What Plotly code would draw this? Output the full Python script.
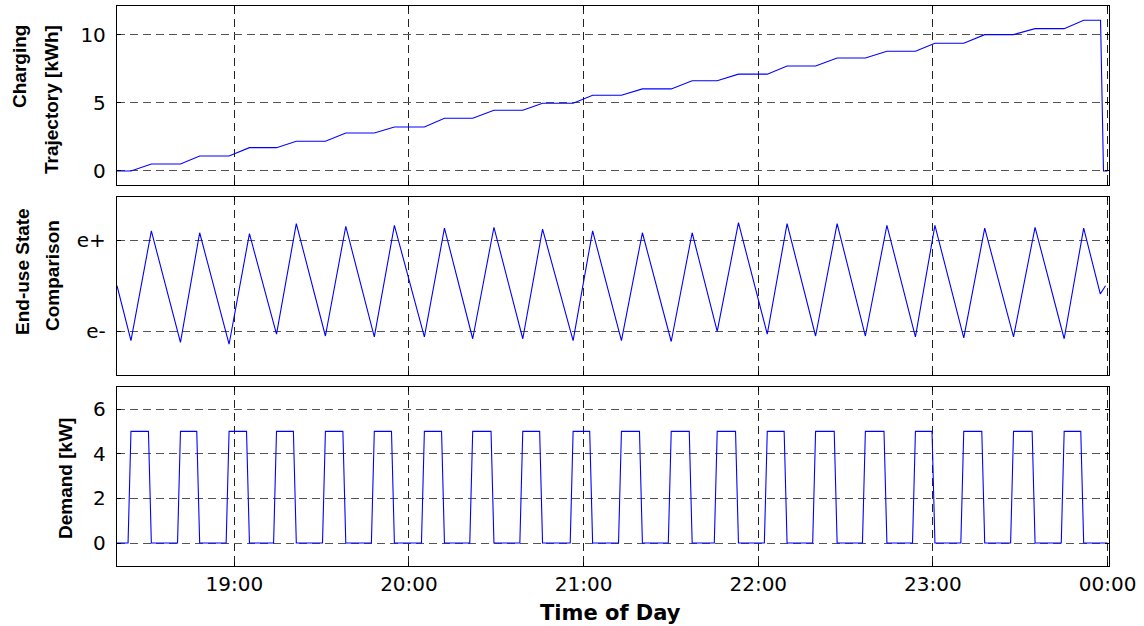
import pandas as pd
import plotly.graph_objects as go

# ---------------- data (times in minutes after 18:00) ----------------
t_start_min = 19.7
t_end_min = 360.0

# time at which demand reaches 5 kW (= minimum of end-use state)
pulse_on_min = [24.5, 41.5, 58.2, 74.5, 91.3, 108.1, 125.3, 141.9, 159.1, 176.4,
                193.0, 210.1, 225.9, 243.1, 259.7, 276.8, 294.0, 310.6, 327.7, 345.1]
# time at which demand is back at 0 kW (= maximum of end-use state)
pulse_off_min = [31.5, 48.1, 65.2, 81.3, 98.3, 115.0, 132.2, 149.2, 165.9, 183.1,
                 200.2, 217.3, 233.2, 249.9, 267.1, 284.2, 300.7, 317.8, 335.1, 351.8]
demand_on_kw = [5, 5, 5, 5, 5, 5, 5, 5, 5, 5, 5, 5, 5, 5, 5, 5, 5, 5, 5, 5]
sample_min = 1.0

# charging trajectory plateaus [kWh] (before first pulse, then after each pulse)
energy_kwh = [0.0, 0.51, 1.10, 1.71, 2.18, 2.79, 3.23, 3.87, 4.45, 4.97, 5.55,
              6.02, 6.62, 7.10, 7.70, 8.29, 8.78, 9.37, 10.00, 10.44, 11.06]
energy_drop_min = [357.6, 358.6]

# end-use state (e- = 0, e+ = 1)
state_start = 0.50
state_trough = [-0.10, -0.12, -0.14, -0.03, -0.05, -0.06, -0.06, -0.08, -0.08, -0.10,
                -0.10, -0.11, 0.00, -0.03, -0.05, -0.05, -0.06, -0.07, -0.06, -0.08]
state_peak = [1.10, 1.08, 1.07, 1.18, 1.15, 1.16, 1.13, 1.14, 1.12, 1.10,
              1.08, 1.08, 1.19, 1.18, 1.18, 1.16, 1.16, 1.13, 1.14, 1.13]
state_tail_min = [357.5, 359.3]
state_tail_val = [0.41, 0.50]

x_tick_min = [60, 120, 180, 240, 300, 360]
x_tick_labels = ["19:00", "20:00", "21:00", "22:00", "23:00", "00:00"]
state_tick_vals = [0, 1]
state_tick_labels = ["e-", "e+"]

BASE = pd.Timestamp("2000-01-01 18:00:00")


def to_dt(m):
    return BASE + pd.Timedelta(minutes=float(m))


# ---------------- build traces ----------------
dem_t, dem_y = [t_start_min], [0]
for on, off, kw in zip(pulse_on_min, pulse_off_min, demand_on_kw):
    dem_t += [on - sample_min, on, off - sample_min, off]
    dem_y += [0, kw, kw, 0]
dem_t.append(t_end_min)
dem_y.append(0)

en_t, en_y = [t_start_min], [energy_kwh[0]]
for k, (on, off) in enumerate(zip(pulse_on_min, pulse_off_min)):
    en_t += [on, off]
    en_y += [energy_kwh[k], energy_kwh[k + 1]]
en_t += [energy_drop_min[0], energy_drop_min[1], t_end_min]
en_y += [energy_kwh[-1], 0, 0]

st_t, st_y = [t_start_min], [state_start]
for on, off, lo, hi in zip(pulse_on_min, pulse_off_min, state_trough, state_peak):
    st_t += [on, off]
    st_y += [lo, hi]
st_t += state_tail_min
st_y += state_tail_val

LINE = dict(color="#0000ff", width=1.1)

fig = go.Figure()
fig.add_trace(go.Scatter(x=[to_dt(m) for m in en_t], y=en_y, mode="lines",
                         line=LINE, xaxis="x", yaxis="y", showlegend=False))
fig.add_trace(go.Scatter(x=[to_dt(m) for m in st_t], y=st_y, mode="lines",
                         line=LINE, xaxis="x2", yaxis="y2", showlegend=False))
fig.add_trace(go.Scatter(x=[to_dt(m) for m in dem_t], y=dem_y, mode="lines",
                         line=LINE, xaxis="x3", yaxis="y3", showlegend=False))

# ---------------- layout ----------------
W, H = 1144, 626
L, R, T, B = 117, 35, 6, 60
PW, PH = W - L - R, H - T - B


def py(p):  # pixel y -> paper y
    return min(1.0, max(0.0, (H - B - p) / PH))


def pyu(p):  # unclamped
    return (H - B - p) / PH


def px(p):  # pixel x -> paper x
    return (p - L) / PW


TICKFONT = dict(family="DejaVu Sans", size=20, color="black")
xrange_ = [to_dt(t_start_min), to_dt(360.5)]
tickvals = [to_dt(m) for m in x_tick_min]

common_x = dict(type="date", range=xrange_, tickvals=tickvals, ticktext=x_tick_labels,
                showline=True, linecolor="black", linewidth=1.3, mirror="ticks",
                ticks="inside", ticklen=4, tickcolor="black",
                showgrid=True, gridcolor="#222222", gridwidth=1, griddash="8px,5px",
                zeroline=False, tickfont=TICKFONT, automargin=False)
common_y = dict(showline=True, linecolor="black", linewidth=1.3, mirror="ticks",
                ticks="inside", ticklen=4, tickcolor="black",
                showgrid=True, gridcolor="#555555", gridwidth=1, griddash="8px,5px",
                zeroline=False, tickfont=TICKFONT, automargin=False,
                ticklabelstandoff=6)

d_top = [py(185.3), py(6)]
d_mid = [py(375.3), py(197.3)]
d_bot = [py(566), py(386.7)]

fig.update_layout(
    width=W, height=H,
    margin=dict(l=L, r=R, t=T, b=B),
    paper_bgcolor="white", plot_bgcolor="white",
    xaxis=dict(common_x, anchor="y", domain=[0, 1], showticklabels=False),
    xaxis2=dict(common_x, anchor="y2", domain=[0, 1], showticklabels=False, matches="x"),
    xaxis3=dict(common_x, anchor="y3", domain=[0, 1], matches="x"),
    yaxis=dict(common_y, anchor="x", domain=d_top, range=[-1.05, 12.1],
               tickvals=[0, 5, 10]),
    yaxis2=dict(common_y, anchor="x2", domain=d_mid, range=[-0.48, 1.468],
                tickvals=state_tick_vals, ticktext=state_tick_labels),
    yaxis3=dict(common_y, anchor="x3", domain=d_bot, range=[-1.03, 7.0],
                tickvals=[0, 2, 4, 6]),
)

TFONT = dict(family="Liberation Sans, Arial", size=19, color="black")
titles = [
    ("Charging", 20, 67),
    ("Trajectory [kWh]", 52, 100),
    ("End-use State", 22, 272),
    ("Comparison", 52, 276),
    ("Demand [kW]", 65, 479),
]
for txt, xp, yp in titles:
    fig.add_annotation(text="<b>" + txt + "</b>", xref="paper", yref="paper",
                       x=px(xp), y=pyu(yp), xanchor="center", yanchor="middle",
                       textangle=-90, showarrow=False, font=TFONT)

fig.add_annotation(text="<b>Time of Day</b>", xref="paper", yref="paper",
                   x=px(610), y=pyu(613), xanchor="center", yanchor="middle",
                   showarrow=False, font=dict(family="DejaVu Sans", size=21, color="black"))

fig.write_html("out.html",
               config={"displayModeBar": False},
               post_script="document.body.style.margin='0px';"
                           "document.body.style.overflow='hidden';")
